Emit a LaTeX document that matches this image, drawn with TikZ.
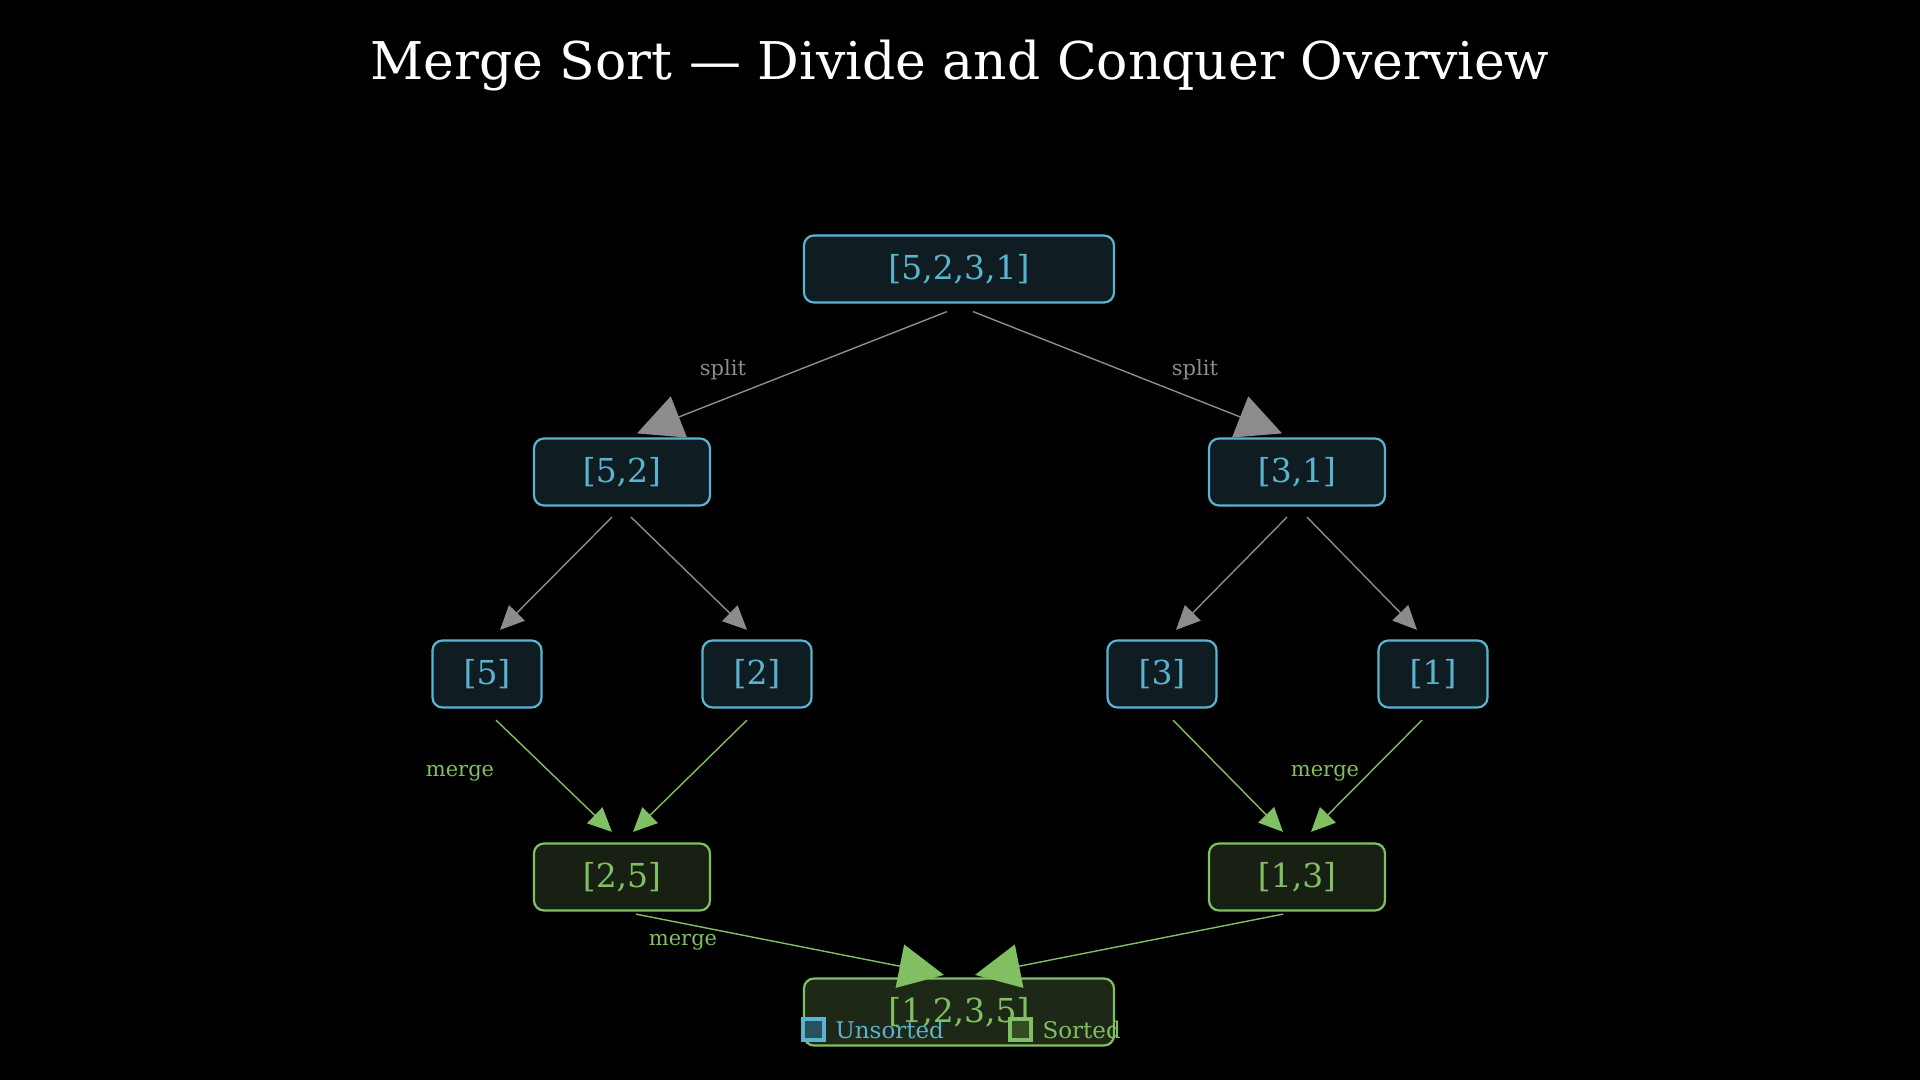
\documentclass[tikz,border=0pt]{standalone}
\usepackage{fontspec}
\setmainfont{DejaVu Serif}
\usetikzlibrary{arrows.meta}
\definecolor{MSBlue}{HTML}{5AB4D0}
\definecolor{MSBlueFill}{HTML}{0F1D23}
\definecolor{MSGreen}{HTML}{80BF62}
\definecolor{MSGreenFill}{HTML}{172012}
\definecolor{MSFinalFill}{HTML}{1D2916}
\definecolor{MSGray}{HTML}{8C8C8C}

\begin{document}
\begin{tikzpicture}[
        x=1pt, y=-1pt,
        unsorted/.style={draw=MSBlue, fill=MSBlueFill, text=MSBlue, rounded corners=10pt,
          line width=2.2pt, minimum height=67pt, font=\fontsize{33}{38}\selectfont},
        sorted/.style={draw=MSGreen, fill=MSGreenFill, text=MSGreen, rounded corners=10pt,
          line width=2.2pt, minimum height=67pt, font=\fontsize{33}{38}\selectfont},
        splitarrow/.style={-{Triangle[length=24pt, width=22pt]}, line width=1.4pt, draw=MSGray, fill=MSGray},
        mergearrow/.style={-{Triangle[length=24pt, width=22pt]}, line width=1.4pt, draw=MSGreen, fill=MSGreen},
        bigtip/.style={-{Triangle[length=45pt, width=44pt]}},
        lbl/.style={font=\fontsize{21}{24}\selectfont},
        key/.style={line width=4pt, minimum size=21pt, inner sep=0pt}
      ]
        \fill[black] (0,0) rectangle (1920,1080);
        \node[text=white, font=\fontsize{52}{60}\selectfont] (title) at (960,66) {Merge Sort — Divide and Conquer Overview};

        % split levels
        \node[unsorted, minimum width=310pt] (root) at (959,269) {[5,2,3,1]};
        \node[unsorted, minimum width=176pt] (n52) at (622,472) {[5,2]};
        \node[unsorted, minimum width=176pt] (n31) at (1297,472) {[3,1]};
        \node[unsorted, minimum width=109pt] (n5) at (487,674) {[5]};
        \node[unsorted, minimum width=109pt] (n2) at (757,674) {[2]};
        \node[unsorted, minimum width=109pt] (n3) at (1162,674) {[3]};
        \node[unsorted, minimum width=109pt] (n1) at (1433,674) {[1]};

        % merge levels
        \node[sorted, minimum width=176pt] (n25) at (622,877) {[2,5]};
        \node[sorted, minimum width=176pt] (n13) at (1297,877) {[1,3]};
        \node[sorted, minimum width=310pt, fill=MSFinalFill] (final) at (959,1012) {[1,2,3,5]};

        \draw[splitarrow, bigtip] ([xshift=-12pt,yshift=-8pt]root.south) -- ([xshift=15pt,yshift=4pt]n52.north);
        \draw[splitarrow, bigtip] ([xshift=14pt,yshift=-8pt]root.south) -- ([xshift=-15pt,yshift=4pt]n31.north);
        \draw[splitarrow] ([xshift=-10pt,yshift=-10.5pt]n52.south) -- ([xshift=13pt,yshift=9.5pt]n5.north);
        \draw[splitarrow] ([xshift=9pt,yshift=-10.5pt]n52.south) -- ([xshift=-10pt,yshift=9.5pt]n2.north);
        \draw[splitarrow] ([xshift=-10pt,yshift=-10.5pt]n31.south) -- ([xshift=14pt,yshift=9.5pt]n3.north);
        \draw[splitarrow] ([xshift=10pt,yshift=-10.5pt]n31.south) -- ([xshift=-16pt,yshift=9.5pt]n1.north);

        \draw[mergearrow] ([xshift=9pt,yshift=-11.5pt]n5.south) -- ([xshift=-10pt,yshift=10.5pt]n25.north);
        \draw[mergearrow] ([xshift=-10pt,yshift=-11.5pt]n2.south) -- ([xshift=11pt,yshift=10.5pt]n25.north);
        \draw[mergearrow] ([xshift=11pt,yshift=-11.5pt]n3.south) -- ([xshift=-14pt,yshift=10.5pt]n13.north);
        \draw[mergearrow] ([xshift=-11pt,yshift=-11.5pt]n1.south) -- ([xshift=14pt,yshift=10.5pt]n13.north);
        \draw[mergearrow, bigtip] ([xshift=14pt,yshift=-2.5pt]n25.south) -- ([xshift=-15pt,yshift=2.5pt]final.north);
        \draw[mergearrow, bigtip] ([xshift=-14pt,yshift=-2.5pt]n13.south) -- ([xshift=16pt,yshift=2.5pt]final.north);

        % edge labels
        \node[lbl, text=MSGray] (splitL) at (723,370) {split};
        \node[lbl, text=MSGray] (splitR) at (1195,370) {split};
        \node[lbl, text=MSGreen] (mergeL) at (460,773) {merge};
        \node[lbl, text=MSGreen] (mergeR) at (1325,773) {merge};
        \node[lbl, text=MSGreen] (mergeB) at (683,942) {merge};

        % legend
        \node[key, draw=MSBlue, fill=MSBlue!45!black] (keyU) at (813,1029) {};
        \node[lbl, text=MSBlue, anchor=west, font=\fontsize{23}{26}\selectfont] (keyUtext) at (832,1030) {Unsorted};
        \node[key, draw=MSGreen, fill=MSGreen!40!black] (keyS) at (1020,1029) {};
        \node[lbl, text=MSGreen, anchor=west, font=\fontsize{23}{26}\selectfont] (keyStext) at (1039,1030) {Sorted};
      \end{tikzpicture}
\end{document}
